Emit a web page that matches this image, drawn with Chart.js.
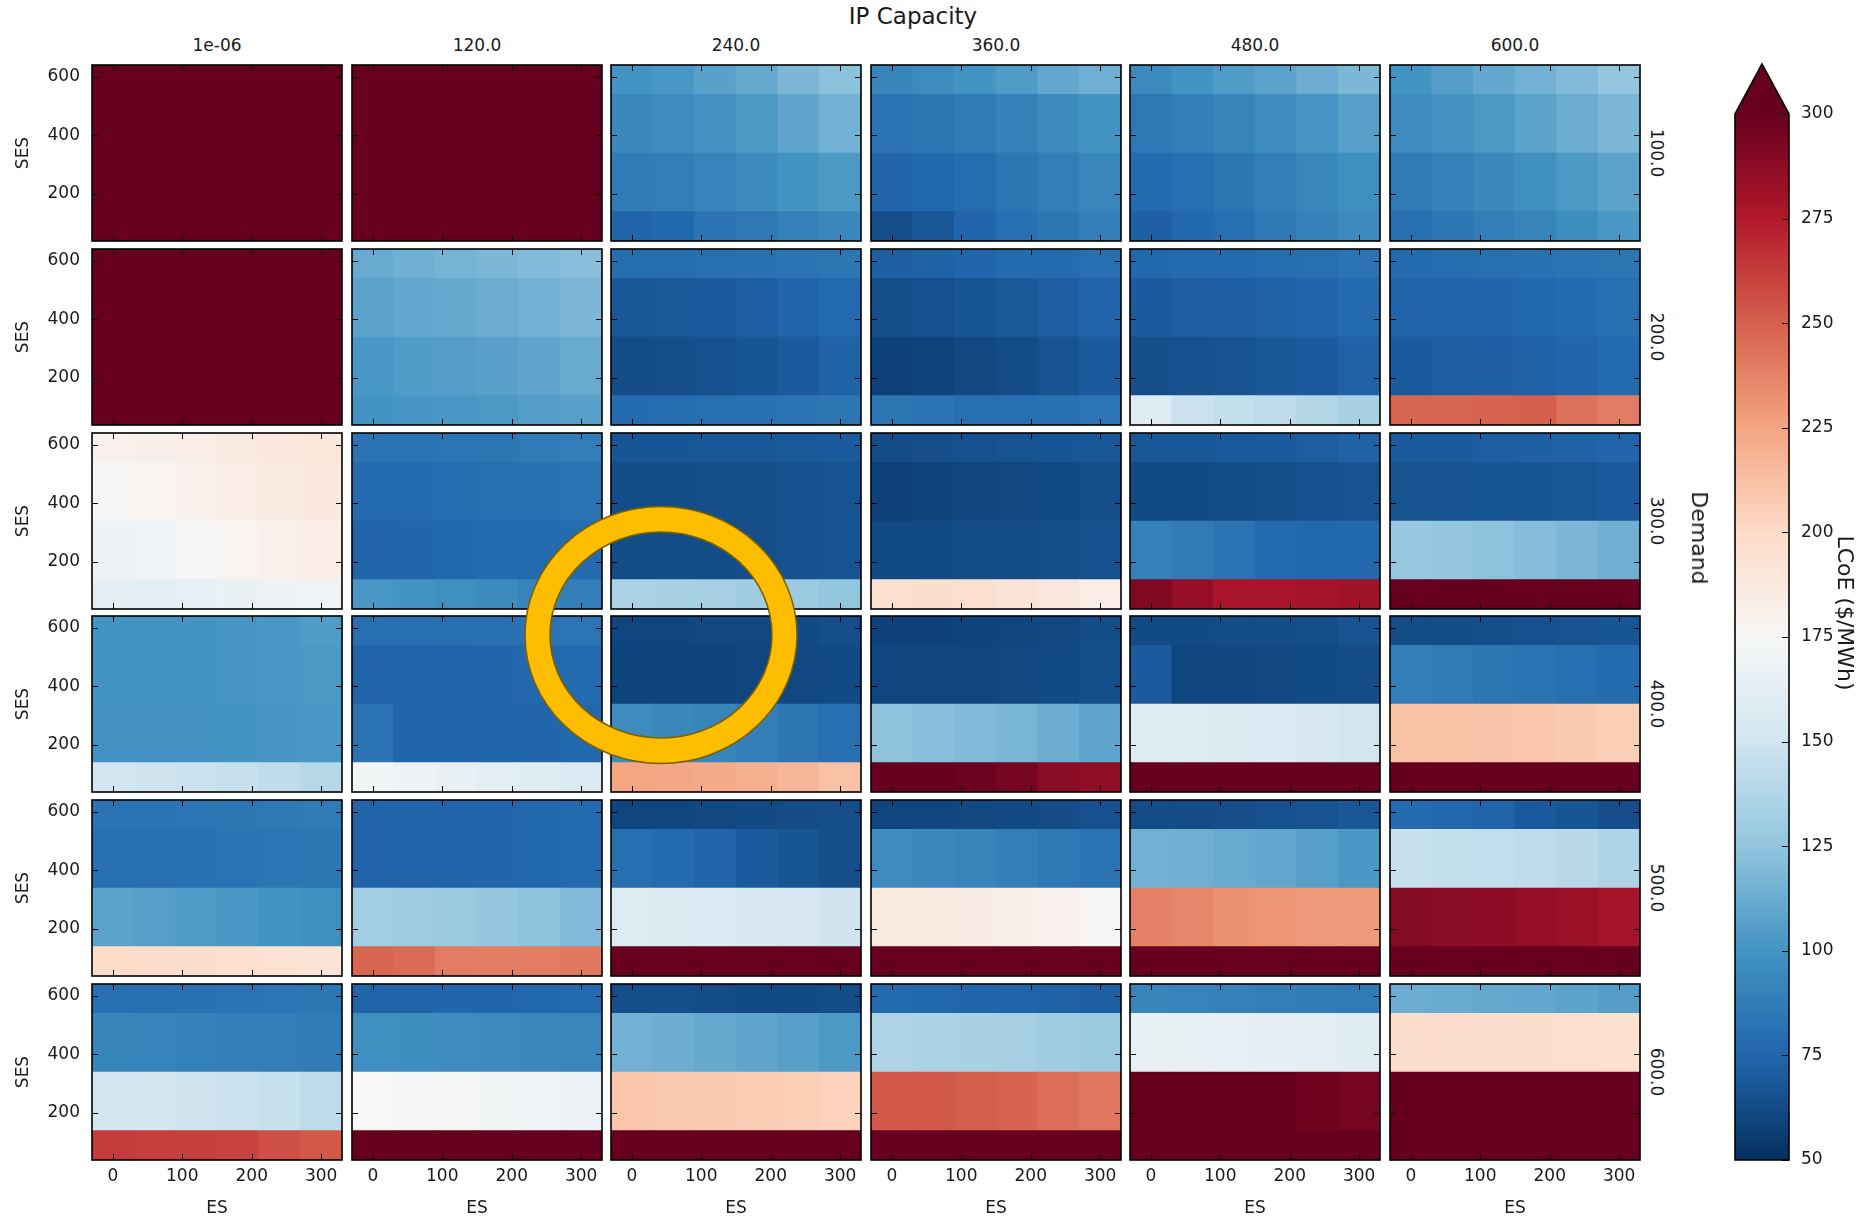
<!DOCTYPE html>
<html>
<head>
<meta charset="utf-8">
<title>LCoE by IP capacity and demand</title>
<script src="https://cdn.jsdelivr.net/npm/chart.js@4/dist/chart.umd.min.js"></script>
<style>
  html, body { margin: 0; padding: 0; background: #fff; }
  #fig { position: relative; width: 1859px; height: 1219px; overflow: hidden;
         font-family: 'DejaVu Sans', sans-serif; color: #1a1a1a; }
  #fig canvas { position: absolute; }
  .lbl { position: absolute; white-space: nowrap; line-height: 1; transform: translate(-50%, -50%); }
  .lbl.rot { transform: translate(-50%, -50%) rotate(90deg); }
  #ring { position: absolute; left: 0; top: 0; pointer-events: none; }
</style>
</head>
<body>
<div id="fig"></div>
<script>
// ---- axes / tick values ----------------------------------------------------
const esLevels = [0, 60, 120, 180, 240, 300];          // ES (columns inside a panel)
const sesLevels = [40, 240, 440, 640];                 // SES (bands inside a panel)
const esTicks = [0, 100, 200, 300];
const sesTicks = [200, 400, 600];
const ipCapacity = ['1e-06', '120.0', '240.0', '360.0', '480.0', '600.0'];
const demandLevels = ['100.0', '200.0', '300.0', '400.0', '500.0', '600.0'];
const lcoeTicks = [50, 75, 100, 125, 150, 175, 200, 225, 250, 275, 300];
const lcoeMin = 50, lcoeMax = 300;

// ---- LCoE ($/MWh) per panel ---------------------------------------------
// one array per demand level; each holds the six IP-capacity panels,
// each panel lists SES bands from 40 up to 640, each band across ES 0..300
const demand100 = [
  [[320, 320, 320, 320, 320, 320], [320, 320, 320, 320, 320, 320], [320, 320, 320, 320, 320, 320], [320, 320, 320, 320, 320, 320]],
  [[320, 320, 320, 320, 320, 320], [320, 320, 320, 320, 320, 320], [320, 320, 320, 320, 320, 320], [320, 320, 320, 320, 320, 320]],
  [[74, 76, 82, 85, 90, 94], [87, 88, 91, 95, 100, 103], [94, 96, 99, 103, 109, 115], [100, 102, 107, 111, 118, 123]],
  [[64, 68, 75, 80, 84, 89], [74, 76, 79, 84, 88, 93], [82, 84, 87, 90, 95, 100], [92, 96, 100, 104, 110, 114]],
  [[72, 76, 80, 85, 90, 95], [78, 80, 84, 88, 93, 98], [85, 88, 92, 96, 101, 106], [95, 100, 104, 108, 113, 118]],
  [[80, 84, 88, 92, 97, 102], [86, 90, 94, 98, 103, 108], [96, 99, 103, 108, 113, 118], [100, 105, 110, 115, 120, 126]]
];
const demand200 = [
  [[320, 320, 320, 320, 320, 320], [320, 320, 320, 320, 320, 320], [320, 320, 320, 320, 320, 320], [320, 320, 320, 320, 320, 320]],
  [[100, 101, 102, 103, 105, 107], [102, 104, 105, 107, 109, 112], [108, 110, 111, 113, 115, 118], [112, 114, 116, 118, 120, 122]],
  [[78, 79, 80, 81, 82, 84], [63, 64, 65, 67, 70, 73], [68, 69, 70, 72, 74, 77], [79, 79, 80, 81, 82, 84]],
  [[84, 82, 80, 80, 81, 83], [58, 59, 61, 63, 66, 70], [64, 65, 67, 69, 71, 74], [72, 73, 75, 77, 78, 80]],
  [[160, 148, 145, 142, 138, 134], [64, 65, 66, 68, 70, 73], [70, 71, 72, 73, 75, 77], [76, 77, 78, 79, 80, 82]],
  [[248, 248, 249, 250, 244, 240], [70, 71, 72, 73, 75, 77], [74, 74, 75, 76, 78, 80], [78, 79, 80, 81, 82, 84]]
];
const demand300 = [
  [[163, 162, 164, 166, 168, 170], [168, 170, 174, 178, 181, 184], [176, 178, 181, 184, 186, 188], [180, 182, 184, 186, 188, 190]],
  [[102, 100, 98, 95, 91, 88], [74, 75, 76, 77, 77, 78], [78, 78, 79, 80, 81, 82], [82, 82, 83, 84, 86, 88]],
  [[135, 134, 133, 131, 128, 125], [63, 63, 63, 64, 65, 66], [63, 63, 64, 64, 65, 66], [67, 67, 68, 68, 69, 70]],
  [[196, 197, 196, 192, 188, 184], [62, 62, 63, 63, 64, 65], [58, 59, 60, 61, 62, 64], [63, 64, 65, 66, 67, 68]],
  [[292, 284, 278, 278, 279, 281], [90, 86, 82, 78, 76, 76], [62, 62, 63, 64, 65, 66], [68, 68, 69, 70, 71, 73]],
  [[310, 310, 310, 310, 310, 310], [127, 126, 124, 121, 118, 114], [66, 66, 67, 67, 68, 70], [70, 70, 71, 72, 73, 75]]
];
const demand400 = [
  [[152, 150, 148, 146, 143, 139], [99, 99, 99, 100, 101, 102], [100, 100, 100, 101, 102, 103], [100, 100, 100, 101, 102, 104]],
  [[172, 168, 165, 162, 160, 156], [82, 75, 75, 75, 75, 76], [74, 74, 75, 75, 76, 77], [80, 80, 80, 81, 82, 83]],
  [[225, 224, 222, 220, 217, 212], [96, 94, 92, 88, 84, 80], [59, 59, 59, 60, 61, 62], [60, 60, 61, 61, 62, 64]],
  [[300, 300, 298, 295, 288, 286], [124, 122, 120, 117, 113, 109], [60, 60, 60, 61, 62, 64], [58, 58, 59, 60, 61, 63]],
  [[310, 310, 310, 310, 310, 310], [158, 158, 157, 156, 154, 151], [70, 60, 60, 61, 62, 63], [62, 62, 63, 63, 64, 66]],
  [[310, 310, 310, 310, 310, 310], [212, 212, 211, 210, 208, 206], [88, 86, 84, 82, 80, 78], [63, 63, 64, 65, 66, 67]]
];
const demand500 = [
  [[199, 198, 197, 196, 194, 192], [108, 106, 104, 102, 100, 98], [80, 80, 81, 82, 83, 84], [82, 82, 83, 84, 85, 86]],
  [[248, 246, 240, 239, 240, 241], [132, 130, 128, 126, 124, 120], [74, 74, 74, 75, 76, 77], [74, 74, 74, 75, 76, 77]],
  [[315, 315, 314, 312, 310, 305], [158, 157, 156, 155, 153, 150], [80, 77, 74, 70, 67, 64], [60, 60, 61, 62, 63, 64]],
  [[310, 310, 310, 310, 310, 310], [187, 186, 185, 183, 180, 177], [96, 94, 92, 89, 85, 82], [60, 60, 61, 62, 63, 65]],
  [[310, 310, 310, 310, 310, 310], [238, 236, 232, 230, 229, 229], [115, 114, 112, 110, 106, 102], [63, 63, 64, 65, 66, 68]],
  [[310, 310, 310, 310, 310, 310], [290, 288, 287, 285, 283, 280], [146, 145, 144, 142, 140, 137], [78, 76, 74, 70, 67, 64]]
];
const demand600 = [
  [[263, 262, 261, 260, 256, 252], [152, 151, 150, 148, 146, 143], [92, 91, 90, 89, 88, 87], [80, 80, 81, 82, 83, 84]],
  [[315, 315, 315, 315, 315, 315], [175, 174, 173, 172, 170, 167], [98, 97, 96, 95, 94, 93], [74, 74, 75, 75, 76, 77]],
  [[320, 320, 320, 320, 320, 320], [210, 209, 208, 207, 206, 204], [115, 113, 111, 109, 106, 103], [64, 64, 63, 62, 62, 63]],
  [[320, 320, 320, 320, 320, 320], [252, 252, 251, 249, 245, 242], [136, 135, 134, 133, 131, 128], [77, 76, 75, 74, 73, 72]],
  [[315, 315, 315, 315, 315, 315], [305, 305, 303, 300, 297, 295], [165, 165, 164, 163, 162, 160], [92, 91, 90, 88, 87, 86]],
  [[320, 320, 320, 320, 320, 320], [320, 320, 320, 320, 320, 320], [198, 198, 197, 197, 196, 195], [113, 112, 111, 110, 108, 105]]
];
const demandGrids = [demand100, demand200, demand300, demand400, demand500, demand600];

// ---- diverging red/blue colour map (reversed: blue = low, red = high) ------
const rdbuStops = ['#053061', '#2166ac', '#4393c3', '#92c5de', '#d1e5f0', '#f7f7f7',
                   '#fddbc7', '#f4a582', '#d6604d', '#b2182b', '#67001f'];
const stopRGB = rdbuStops.map(h => [1, 3, 5].map(i => parseInt(h.substr(i, 2), 16)));
function lcoeColor(v) {
  let t = (v - lcoeMin) / (lcoeMax - lcoeMin);
  t = Math.max(0, Math.min(1, t));
  const p = t * (stopRGB.length - 1);
  const i = Math.min(Math.floor(p), stopRGB.length - 2);
  const f = p - i;
  const a = stopRGB[i], b = stopRGB[i + 1];
  const c = a.map((x, k) => Math.round(x + (b[k] - x) * f));
  return `rgb(${c[0]},${c[1]},${c[2]})`;
}

// SES band limits: half way between neighbouring levels, clipped to the outer levels
function sesBand(k) {
  const n = sesLevels.length;
  const lo = k === 0 ? sesLevels[0] : (sesLevels[k - 1] + sesLevels[k]) / 2;
  const hi = k === n - 1 ? sesLevels[n - 1] : (sesLevels[k] + sesLevels[k + 1]) / 2;
  return [lo, hi];
}

// ---- layout ----------------------------------------------------------------
const FONT = "'DejaVu Sans', sans-serif";
Chart.defaults.font.family = FONT;
Chart.defaults.font.size = 17;
Chart.defaults.color = '#1a1a1a';
Chart.defaults.animation = false;

const fig = document.getElementById('fig');
const panelLeft = [92, 352, 611, 871, 1130, 1390];
const panelTop = [65, 249, 433, 616, 800, 984];
const PW = 250, PH = 176;
const Y_AXIS_W = 92, X_AXIS_H = 59, M = 2;

function addLabel(text, x, y, size, rotate) {
  const d = document.createElement('div');
  d.className = 'lbl' + (rotate ? ' rot' : '');
  d.textContent = text;
  d.style.left = x + 'px';
  d.style.top = y + 'px';
  d.style.fontSize = size + 'px';
  fig.appendChild(d);
}

// frame and inward tick marks on all four sides of a panel
const panelFrame = {
  id: 'panelFrame',
  afterDatasetsDraw(chart) {
    const { ctx, chartArea: a, scales: { x, y } } = chart;
    ctx.save();
    ctx.strokeStyle = '#000';
    ctx.lineWidth = 1;
    ctx.beginPath();
    for (const v of esTicks) {
      const px = Math.round(x.getPixelForValue(v)) + 0.5;
      ctx.moveTo(px, a.bottom); ctx.lineTo(px, a.bottom - 6);
      ctx.moveTo(px, a.top); ctx.lineTo(px, a.top + 6);
    }
    for (const v of sesTicks) {
      const py = Math.round(y.getPixelForValue(v)) + 0.5;
      ctx.moveTo(a.left, py); ctx.lineTo(a.left + 6, py);
      ctx.moveTo(a.right, py); ctx.lineTo(a.right - 6, py);
    }
    ctx.stroke();
    ctx.lineWidth = 1.6;
    ctx.strokeRect(a.left, a.top, a.right - a.left, a.bottom - a.top);
    ctx.restore();
  }
};

// fixed axis thickness so every panel's plot area has the same size
function fixedAxis(size, horizontal, shown) {
  return (s) => {
    const v = shown ? size : 0;
    if (horizontal) s.height = v; else s.width = v;
    s.paddingTop = 0; s.paddingBottom = 0; s.paddingLeft = 0; s.paddingRight = 0;
  };
}

function drawPanel(r, c) {
  const grid = demandGrids[r][c];
  const showY = c === 0, showX = r === demandLevels.length - 1;
  const padL = showY ? Y_AXIS_W : M, padB = showX ? X_AXIS_H : M;
  const cv = document.createElement('canvas');
  cv.width = PW + padL + M;
  cv.height = PH + M + padB;
  cv.style.left = (panelLeft[c] - padL) + 'px';
  cv.style.top = (panelTop[r] - M) + 'px';
  cv.style.width = cv.width + 'px';
  cv.style.height = cv.height + 'px';
  fig.appendChild(cv);

  const datasets = sesLevels.map((ses, k) => {
    const [lo, hi] = sesBand(k);
    return {
      label: 'SES ' + ses,
      data: esLevels.map(es => ({ x: es, y: [lo, hi] })),
      backgroundColor: grid[k].map(lcoeColor),
      borderWidth: 0,
      grouped: false,
      barPercentage: 1,
      categoryPercentage: 1
    };
  });

  new Chart(cv, {
    type: 'bar',
    data: { datasets },
    options: {
      responsive: false,
      devicePixelRatio: 1,
      events: [],
      layout: { padding: { left: showY ? 0 : M, right: M, top: M, bottom: showX ? 0 : M } },
      plugins: { legend: { display: false }, tooltip: { enabled: false } },
      scales: {
        x: {
          type: 'linear', min: -30, max: 330, offset: false,
          display: showX,
          afterBuildTicks: s => { s.ticks = esTicks.map(v => ({ value: v })); },
          afterFit: fixedAxis(X_AXIS_H, true, showX),
          grid: { display: false, drawTicks: false },
          border: { display: false },
          ticks: { padding: 6, maxRotation: 0, autoSkip: false, font: { size: 17 } },
          title: { display: true, text: 'ES', font: { size: 17 }, padding: { top: 0, bottom: 0 } }
        },
        y: {
          type: 'linear', min: sesLevels[0], max: sesLevels[sesLevels.length - 1],
          display: showY,
          afterBuildTicks: s => { s.ticks = sesTicks.map(v => ({ value: v })); },
          afterFit: fixedAxis(Y_AXIS_W, false, showY),
          grid: { display: false, drawTicks: false },
          border: { display: false },
          ticks: { padding: 12, font: { size: 17 } },
          title: { display: true, text: 'SES', font: { size: 17 }, padding: { top: 13, bottom: 0 } }
        }
      }
    },
    plugins: [panelFrame]
  });
}

for (let r = 0; r < demandLevels.length; r++) {
  for (let c = 0; c < ipCapacity.length; c++) drawPanel(r, c);
}

// ---- colour bar --------------------------------------------------------------
const cbarDecor = {
  id: 'cbarDecor',
  afterDatasetsDraw(chart) {
    const { ctx, chartArea: a, scales: { y } } = chart;
    const yTop = y.getPixelForValue(lcoeMax);
    const tipY = yTop - 50;
    const mid = (a.left + a.right) / 2;
    ctx.save();
    ctx.fillStyle = lcoeColor(lcoeMax);
    ctx.beginPath();
    ctx.moveTo(a.left, yTop + 0.5); ctx.lineTo(mid, tipY); ctx.lineTo(a.right, yTop + 0.5);
    ctx.closePath(); ctx.fill();
    ctx.strokeStyle = '#000';
    ctx.lineWidth = 1;
    ctx.beginPath();
    for (const v of lcoeTicks) {
      const py = Math.round(y.getPixelForValue(v)) + 0.5;
      ctx.moveTo(a.right, py); ctx.lineTo(a.right - 7, py);
    }
    ctx.stroke();
    ctx.lineWidth = 1.6;
    ctx.beginPath();
    ctx.moveTo(a.left, a.bottom); ctx.lineTo(a.left, yTop); ctx.lineTo(mid, tipY);
    ctx.lineTo(a.right, yTop); ctx.lineTo(a.right, a.bottom); ctx.closePath();
    ctx.stroke();
    ctx.restore();
  }
};

(function drawColorbar() {
  const cv = document.createElement('canvas');
  const left = 1700, top = 40;
  cv.width = 1859 - left; cv.height = 1180 - top;
  cv.style.left = left + 'px'; cv.style.top = top + 'px';
  cv.style.width = cv.width + 'px'; cv.style.height = cv.height + 'px';
  fig.appendChild(cv);
  new Chart(cv, {
    type: 'bar',
    data: {
      labels: ['LCoE'],
      datasets: [{
        data: [[lcoeMin, lcoeMax]],
        borderWidth: 0,
        barPercentage: 1,
        categoryPercentage: 1,
        backgroundColor: (c) => {
          const ch = c.chart, ys = ch.scales.y;
          if (!ch.chartArea || !ys) return lcoeColor(lcoeMin);
          const g = ch.ctx.createLinearGradient(0, ys.getPixelForValue(lcoeMin), 0, ys.getPixelForValue(lcoeMax));
          rdbuStops.forEach((s, i) => g.addColorStop(i / (rdbuStops.length - 1), s));
          return g;
        }
      }]
    },
    options: {
      responsive: false,
      devicePixelRatio: 1,
      events: [],
      layout: { padding: { left: 35, right: 0, top: 74, bottom: 20 } },
      plugins: { legend: { display: false }, tooltip: { enabled: false } },
      scales: {
        x: { display: false },
        y: {
          position: 'right', min: lcoeMin, max: lcoeMax,
          afterBuildTicks: s => { s.ticks = lcoeTicks.map(v => ({ value: v })); },
          afterFit: fixedAxis(70, false, true),
          grid: { display: false, drawTicks: false },
          border: { display: false },
          ticks: { padding: 12, font: { size: 17 } }
        }
      }
    },
    plugins: [cbarDecor]
  });
})();

// ---- figure text ---------------------------------------------------------------
addLabel('IP Capacity', 913, 16, 23, false);
ipCapacity.forEach((t, c) => addLabel(t, panelLeft[c] + PW / 2, 45, 17, false));
demandLevels.forEach((t, r) => addLabel(t, 1656, panelTop[r] + PH / 2, 17, true));
addLabel('Demand', 1699, 538, 22, true);
addLabel('LCoE ($/MWh)', 1845, 613, 22, true);

// ---- highlight ring ----------------------------------------------------------
const svgNS = 'http://www.w3.org/2000/svg';
const ring = document.createElementNS(svgNS, 'svg');
ring.setAttribute('id', 'ring');
ring.setAttribute('width', '1859');
ring.setAttribute('height', '1219');
const path = document.createElementNS(svgNS, 'path');
path.setAttribute('fill', '#ffbd00');
path.setAttribute('fill-rule', 'evenodd');
path.setAttribute('stroke', '#7a6200');
path.setAttribute('stroke-width', '1.5');
path.setAttribute('d',
  'M525,635 a136,128.5 0 1,0 272,0 a136,128.5 0 1,0 -272,0 Z ' +
  'M550,635 a111,103 0 1,0 222,0 a111,103 0 1,0 -222,0 Z');
ring.appendChild(path);
fig.appendChild(ring);
</script>
</body>
</html>
